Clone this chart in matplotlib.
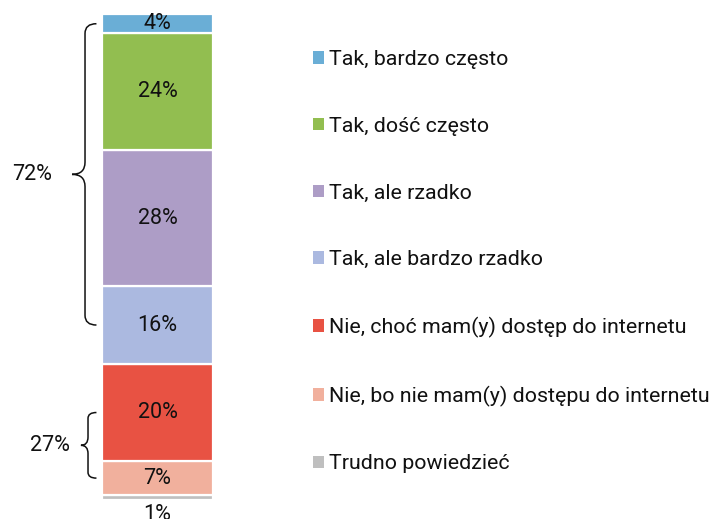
import matplotlib
matplotlib.use("Agg")
import matplotlib.pyplot as plt
from matplotlib.path import Path
from matplotlib.patches import PathPatch, Patch
import matplotlib.transforms as mtransforms

plt.rcParams['font.family'] = ['Roboto', 'DejaVu Sans']

categories = ["Trudno powiedzieć",
              "Nie, bo nie mam(y) dostępu do internetu",
              "Nie, choć mam(y) dostęp do internetu",
              "Tak, ale bardzo rzadko",
              "Tak, ale rzadko",
              "Tak, dość często",
              "Tak, bardzo często"]
values = [1, 7, 20, 16, 28, 24, 4]
labels = ["1%", "7%", "20%", "16%", "28%", "24%", "4%"]
colors = ["#BFBFBF", "#F1B09D", "#E85243", "#ABB9E0", "#AD9DC6", "#92BE50", "#6AAED6"]
groups = [("72%", 3, 6), ("27%", 1, 2)]  # label, first idx, last idx

FS = 15.5
LFS = 15.4
W, H = 713, 519
fig = plt.figure(figsize=(W / 100, H / 100), dpi=100)
ax = fig.add_axes([102 / W, 19 / H, 111 / W, 486 / H])
ax.set_xlim(-0.5, 0.5)
ax.set_ylim(0, 100)
ax.axis('off')

bottoms = []
b = 0
for v, c in zip(values, colors):
    ax.bar(0, v, bottom=b, width=1.0, color=c, edgecolor='white', linewidth=1.6)
    bottoms.append(b)
    b += v

for i, (v, lab) in enumerate(zip(values, labels)):
    mid = bottoms[i] + v / 2
    if v < 2:
        ax.annotate(lab, (0, bottoms[i]), xytext=(0, -14), textcoords='offset pixels',
                    ha='center', va='center', fontsize=FS, color='#111111',
                    annotation_clip=False)
    else:
        ax.text(0, mid, lab, ha='center', va='center', fontsize=FS, color='#111111')

trans = mtransforms.blended_transform_factory(ax.transAxes, ax.transData)

# brace geometry (axes-x): end, vertical, tip, label right edge
brace_style = {"72%": (-0.05, -0.153, -0.27, -0.45, 2.0),
               "27%": (-0.05, -0.126, -0.19, -0.29, 1.2)}


def brace(y0, y1, label):
    xe, xv, xt, xl, r = brace_style[label]
    ym = (y0 + y1) / 2
    verts = [(xe, y1), (xv, y1), (xv, y1 - r), (xv, y1 - r - 0.5),
             (xv, ym + r + 0.5), (xv, ym), (xt, ym),
             (xv, ym), (xv, ym - r - 0.5),
             (xv, y0 + r + 0.5), (xv, y0 + r), (xv, y0), (xe, y0)]
    codes = [Path.MOVETO, Path.CURVE3, Path.CURVE3, Path.LINETO,
             Path.LINETO, Path.CURVE3, Path.CURVE3,
             Path.CURVE3, Path.CURVE3,
             Path.LINETO, Path.LINETO, Path.CURVE3, Path.CURVE3]
    p = PathPatch(Path(verts, codes), transform=trans, fill=False,
                  edgecolor='#111111', linewidth=1.1, clip_on=False)
    ax.add_patch(p)
    ax.text(xl, ym, label, transform=trans, ha='right', va='center',
            fontsize=FS, color='#111111')


for lab, i0, i1 in groups:
    y0 = bottoms[i0] + values[i0] / 2
    y1 = bottoms[i1] + values[i1] / 2
    brace(y0, y1, lab)

handles = [Patch(facecolor=c, edgecolor='none') for c in colors][::-1]
fig.legend(handles, categories[::-1], loc='upper left',
           bbox_to_anchor=(313 / W, 1 - 50 / H), frameon=False,
           fontsize=LFS, handlelength=0.52, handleheight=0.52,
           handletextpad=0.22, labelspacing=2.23, borderaxespad=0,
           borderpad=0, labelcolor='#111111')

fig.savefig("out.png", dpi=100)
